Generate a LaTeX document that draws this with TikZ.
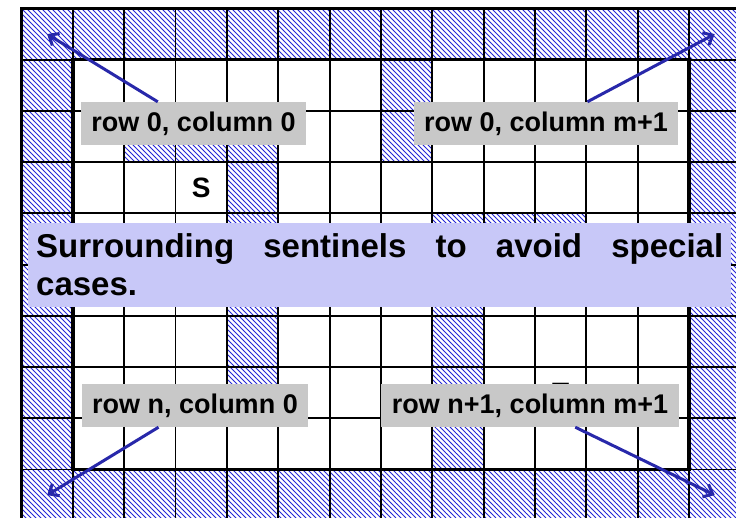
\documentclass[tikz,border=0pt]{standalone}
\usepackage{fontspec}
\setmainfont{Liberation Sans}
\usetikzlibrary{patterns.meta,arrows.meta,calc}
\definecolor{hatchblue}{RGB}{35,35,215}
\definecolor{arrowblue}{RGB}{40,40,170}
\definecolor{noteblue}{RGB}{200,200,248}
\definecolor{labelgray}{RGB}{200,200,200}
\tikzset{
  hatchfill/.style={pattern={Lines[angle=-45,distance=3.5355pt,line width=0.85pt]},pattern color=hatchblue},
  thinline/.style={line width=1.8pt,black},
  thickline/.style={line width=3.3pt,black},
  celltext/.style={font=\fontsize{28}{30}\selectfont\bfseries,inner sep=0pt},
  labelbox/.style={fill=labelgray,font=\fontsize{27}{30}\selectfont\bfseries,text height=20pt,text depth=4pt,inner xsep=10.5pt,inner ysep=9.5pt},
  notebox/.style={fill=noteblue,font=\fontsize{33}{38}\selectfont\bfseries,text width=687pt,inner xsep=8pt,inner ysep=0pt,minimum height=84pt,align=left,anchor=north west},
  pointer/.style={line width=3pt,arrowblue,-{Straight Barb[length=8pt,width=14pt]}}
}
\begin{document}
\begin{tikzpicture}[x=1pt,y=-1pt]
\def\gx{21.5}\def\gy{8.5}\def\cw{51.35}\def\ch{51.22}
\useasboundingbox (0,0) rectangle (736,517);
\clip (0,0) rectangle (736,517);
% sentinel border
\fill[hatchfill] (\gx,\gy) rectangle ++({14*\cw},{10*\ch});
\fill[white] ({\gx+\cw},{\gy+\ch}) rectangle ({\gx+13*\cw},{\gy+9*\ch});
% interior walls
\foreach \cc/\rr in {7/1,2/2,3/2,4/2,7/2,4/3,4/4,8/4,9/4,10/4,4/5,8/5,4/6,8/6,4/7,8/7,8/8}
  \fill[hatchfill] ({\gx+\cc*\cw},{\gy+\rr*\ch}) rectangle ++(\cw,\ch);
% grid
\foreach \i in {0,...,14}
  \draw[thinline] ({\gx+\i*\cw},\gy) -- ++(0,{10*\ch});
\foreach \j in {0,...,10}
  \draw[thinline] (\gx,{\gy+\j*\ch}) -- ++({14*\cw},0);
\draw[line width=2.8pt] (\gx,{\gy+10*\ch}) -- (\gx,\gy) -- ({\gx+14*\cw},\gy);
\draw[thickline] ({\gx+\cw},{\gy+\ch}) rectangle ({\gx+13*\cw},{\gy+9*\ch});
% corner cell centres
\coordinate (tl) at ({\gx+0.5*\cw},{\gy+0.5*\ch});
\coordinate (tr) at ({\gx+13.5*\cw},{\gy+0.5*\ch});
\coordinate (bl) at ({\gx+0.5*\cw},{\gy+9.5*\ch});
\coordinate (br) at ({\gx+13.5*\cw},{\gy+9.5*\ch});
% cell letters
\node[celltext] (S) at ({\gx+3.5*\cw},{\gy+3.5*\ch}) {S};
\node[celltext] (T) at ({\gx+10.5*\cw},{\gy+7.5*\ch}) {T};
% note
\node[notebox] (note) at (28,222.7) {Surrounding\hfill{} sentinels\hfill{} to\hfill{} avoid\hfill{} special\\cases.};
% labels
\node[labelbox] (L1) at (193.5,123.5) {row 0, column 0};
\node[labelbox] (L2) at (546,123.5) {row 0, column m+1};
\node[labelbox] (L3) at (195,405.5) {row n, column 0};
\node[labelbox] (L4) at (530,405.5) {row n+1, column m+1};
% pointers
\draw[pointer] ($(L1.north west)+(77,0)$) -- (tl);
\draw[pointer] ($(L2.north west)+(174,0)$) -- (tr);
\draw[pointer] ($(L3.south west)+(77,0)$) -- (bl);
\draw[pointer] ($(L4.south west)+(194,0)$) -- (br);
\end{tikzpicture}
\end{document}
